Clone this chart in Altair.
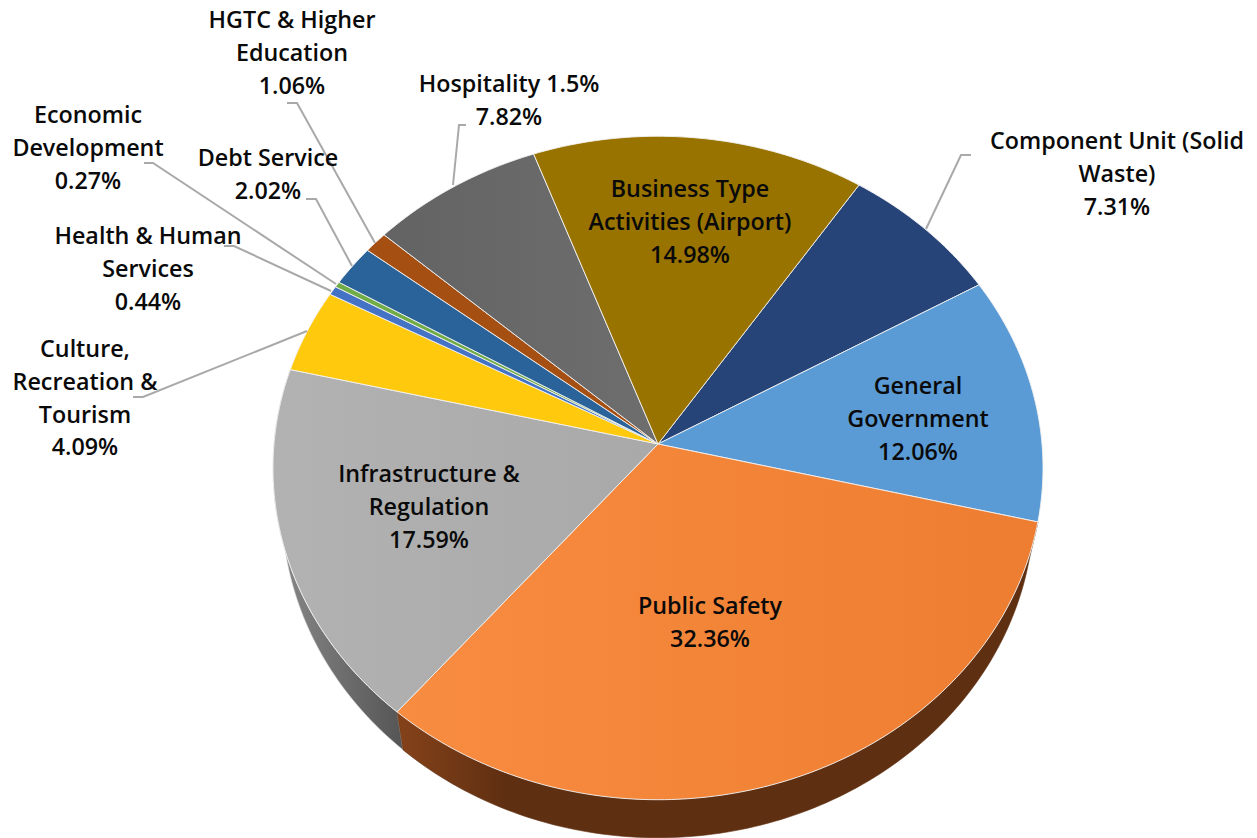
import math
import altair as alt
import pandas as pd

# ---- values
categories = ["Component Unit (Solid Waste)", "General Government", "Public Safety",
              "Infrastructure & Regulation", "Culture, Recreation & Tourism",
              "Health & Human Services", "Economic Development", "Debt Service",
              "HGTC & Higher Education", "Hospitality 1.5%", "Business Type Activities (Airport)"]
shares = [7.31, 12.06, 32.36, 17.59, 4.09, 0.44, 0.27, 2.02, 1.06, 7.82, 14.98]

colors = [
    ["#264478", "#264478"], ["#5B9BD5", "#5B9BD5"], ["#F88C40", "#ED7D31"],
    ["#B2B2B2", "#A9A9A9"], ["#FFC90E", "#FFC90E"], ["#4472C4", "#4472C4"],
    ["#70AD47", "#70AD47"], ["#2A6399", "#2A6399"], ["#A64F12", "#A64F12"],
    ["#636363", "#6E6E6E"], ["#997300", "#997300"],
]

label_lines = [
    (["Component Unit (Solid", "Waste)", "7.31%"], 1117, 142),
    (["General", "Government", "12.06%"], 918, 387),
    (["Public Safety", "32.36%"], 710, 607),
    (["Infrastructure &", "Regulation", "17.59%"], 429, 475),
    (["Culture,", "Recreation &", "Tourism", "4.09%"], 85, 350),
    (["Health & Human", "Services", "0.44%"], 148, 237),
    (["Economic", "Development", "0.27%"], 88, 116),
    (["Debt Service", "2.02%"], 268, 159),
    (["HGTC & Higher", "Education", "1.06%"], 292, 21),
    (["Hospitality 1.5%", "7.82%"], 509, 85),
    (["Business Type", "Activities (Airport)", "14.98%"], 690, 190),
]

leaders = [
    [(971, 155), (961, 155), (926, 229)],
    [(133, 397), (143, 397), (307, 331)],
    [(224, 246), (234, 246), (331, 291)],
    [(144, 163), (153, 163), (336, 284)],
    [(306, 199), (316, 199), (352, 266)],
    [(287, 103), (297, 103), (375, 243)],
    [(466, 125), (459, 125), (453, 185)],
]

# ---- tilted pie geometry: a circle seen in perspective
CX, CY, RX, RY, K, T0 = 658, 444, 384, 330, 0.0723, 33.7
DEPTH, SHRINK = 38, 0.977


def rim(t_deg):
    t = math.radians(t_deg)
    u, v = math.sin(t), -math.cos(t)
    w = 1 / (1 - K * v)
    return CX + RX * u * w, CY + RY * v * w


def arc_points(a, b):
    n = max(2, int(abs(b - a)) + 2)
    return [rim(a + (b - a) * i / (n - 1)) for i in range(n)]


x_scale = alt.Scale(domain=[8, 1249], range=[0, 1241], nice=False, zero=False)
y_scale = alt.Scale(domain=[8, 838], range=[0, 830], nice=False, zero=False)


def polygon(points, fill, stroke, sw):
    df = pd.DataFrame({"x": [p[0] for p in points], "y": [p[1] for p in points],
                       "i": range(len(points))})
    return alt.Chart(df).mark_line(fill=fill, stroke=stroke, strokeWidth=sw, strokeJoin="round",
                                   interpolate="linear").encode(
        x=alt.X("x:Q", scale=x_scale, axis=None),
        y=alt.Y("y:Q", scale=y_scale, axis=None),
        order="i:Q",
    )


def grad(stops):
    return alt.Gradient(gradient="linear", x1=0, y1=0, x2=1, y2=0,
                        stops=[alt.GradientStop(offset=o, color=c) for o, c in stops])


bounds = [T0]
for s in shares:
    bounds.append(bounds[-1] + s * 3.6)

layers = []


def wall(i, stops, edge):
    pts = arc_points(bounds[i], bounds[i + 1])
    low = [(CX + (x - CX) * SHRINK, y + DEPTH) for x, y in pts]
    poly = pts + low[::-1] + [pts[0]]
    layers.append(polygon(poly, grad(stops), edge, 0.6))


wall(3, [(0, "#8A8A8A"), (1, "#555555")], "#D8D8D8")
wall(2, [(0, "#85421A"), (0.17, "#5F2F11"), (1, "#5E2F11")], "#5E2F11")

for i, (a, b) in enumerate(zip(bounds[:-1], bounds[1:])):
    pts = [(CX, CY)] + arc_points(a, b) + [(CX, CY)]
    layers.append(polygon(pts, grad([(0, colors[i][0]), (1, colors[i][1])]), "#F2F2F2", 0.9))

for j, path in enumerate(leaders):
    df = pd.DataFrame({"x": [p[0] for p in path], "y": [p[1] for p in path], "i": range(len(path))})
    layers.append(alt.Chart(df).mark_line(color="#A9A9A9", strokeWidth=2).encode(
        x=alt.X("x:Q", scale=x_scale, axis=None),
        y=alt.Y("y:Q", scale=y_scale, axis=None),
        order="i:Q"))

LINE = 32.8
rows = []
for lines, x, y in label_lines:
    for n, t in enumerate(lines):
        rows.append({"t": t, "x": x, "y": y + n * LINE})
layers.append(alt.Chart(pd.DataFrame(rows)).mark_text(
    font="Open Sans", fontSize=23.3, fontWeight=600, color="#0A0A0A",
    align="center", baseline="middle").encode(
    x=alt.X("x:Q", scale=x_scale, axis=None),
    y=alt.Y("y:Q", scale=y_scale, axis=None),
    text="t:N"))

chart = alt.layer(*layers).properties(
    width=1241, height=830, padding=0, background="#FFFFFF"
).configure_view(stroke=None)

chart.save("out.html", embed_options={"renderer": "svg", "actions": False})
